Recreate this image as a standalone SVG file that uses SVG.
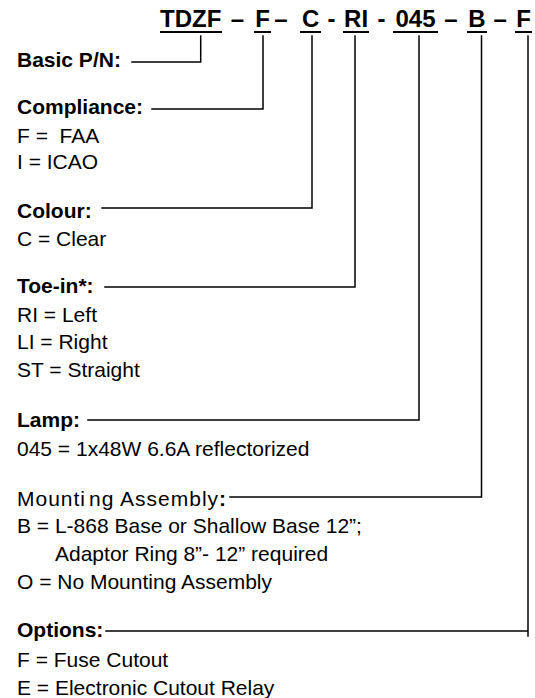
<svg xmlns="http://www.w3.org/2000/svg" width="535" height="698" viewBox="0 0 535 698">
<style>
text{font-family:"Liberation Sans",Arial,sans-serif;fill:#000;}
.t{font-size:24px;font-weight:bold;}
.h{font-size:21px;font-weight:bold;}
.r{font-size:21px;}
.b{font-weight:bold;}
.ul{stroke:#000;stroke-width:2;fill:none;}
.c{stroke:#000;stroke-width:1.5;fill:none;stroke-linecap:square;}
</style>
<rect width="535" height="698" fill="#fff"/>
<g id="part-number">
<text class="t" x="160" y="27"><tspan>TDZF</tspan> <tspan dx="2.8">–</tspan> <tspan dx="4.4">F</tspan> <tspan dx="-2.2">–</tspan> <tspan dx="7.5">C</tspan> <tspan dx="1.7">-</tspan> <tspan dx="1.8">RI</tspan> <tspan dx="2.8">-</tspan> <tspan dx="3.3">045</tspan> <tspan dx="2.1">–</tspan> <tspan dx="4">B</tspan> <tspan dx="1">–</tspan> <tspan dx="2.9">F</tspan></text>
<path class="ul" d="M160,32H222M254,32H271M300,32H321M343,32H369M393,32H438M467,32H487M515,32H532"/>
</g>
<g id="basic">
<text class="h" x="17" y="67">Basic P/N:</text>
</g>
<g id="compliance">
<text class="h" x="17" y="114">Compliance:</text>
<text class="r" x="17" y="143" xml:space="preserve" style="white-space:pre">F =  FAA</text>
<text class="r" x="17" y="169">I = ICAO</text>
</g>
<g id="colour">
<text class="h" x="17" y="218">Colour:</text>
<text class="r" x="17" y="246">C = Clear</text>
</g>
<g id="toe-in">
<text class="h" x="17" y="293">Toe-in*:</text>
<text class="r" x="17" y="322">RI = Left</text>
<text class="r" x="17" y="349">LI = Right</text>
<text class="r" x="17" y="377">ST = Straight</text>
</g>
<g id="lamp">
<text class="h" x="17" y="427">Lamp:</text>
<text class="r" x="17" y="456">045 = 1x48W 6.6A reflectorized</text>
</g>
<g id="mounting">
<text class="r" x="17" y="506" letter-spacing="1">Mounti<tspan dx="3">ng Assembly</tspan><tspan class="b">:</tspan></text>
<text class="r" x="17" y="533">B = L-868 Base or Shallow Base 12”;</text>
<text class="r" x="55" y="561">Adaptor Ring 8”- 12” required</text>
<text class="r" x="17" y="589">O = No Mounting Assembly</text>
</g>
<g id="options">
<text class="h" x="17" y="637">Options:</text>
<text class="r" x="17" y="667">F = Fuse Cutout</text>
<text class="r" x="17" y="695">E = Electronic Cutout Relay</text>
</g>
<g id="connectors">
<path class="c" d="M132,62H200.7V36"/>
<path class="c" d="M152,109H263V36"/>
<path class="c" d="M102,208H312V36"/>
<path class="c" d="M105,287H355V36"/>
<path class="c" d="M88,420H419V36"/>
<path class="c" d="M230,497H481.5V36"/>
<path class="c" d="M106,631H528V36M528,631V636"/>
</g>
</svg>
